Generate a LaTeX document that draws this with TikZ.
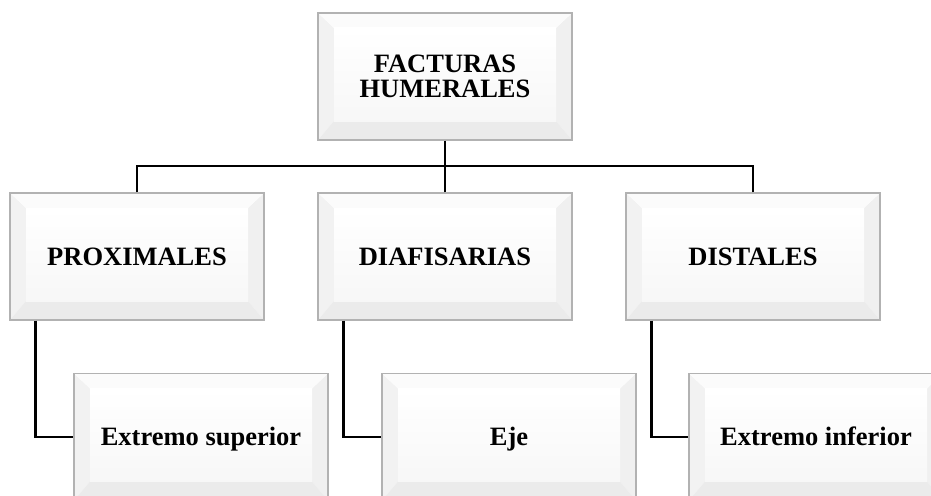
\documentclass[tikz,border=0pt]{standalone}
\usepackage{fontspec}
\setmainfont{Liberation Serif}
\tikzset{
  bev/.style={draw=gray!60, line width=1.3pt, fill=white,
    minimum width=254pt, minimum height=127pt, inner sep=0pt, align=center,
    font=\bfseries\fontsize{26.5}{25.5}\selectfont,
    path picture={
      \path (path picture bounding box.north west) coordinate (nw)
            (path picture bounding box.north east) coordinate (ne)
            (path picture bounding box.south west) coordinate (sw)
            (path picture bounding box.south east) coordinate (se);
      \fill[gray!10] (nw) -- ([xshift=16pt,yshift=-15pt]nw) -- ([xshift=16pt,yshift=19pt]sw) -- (sw) -- cycle;
      \fill[gray!12] (ne) -- ([xshift=-16pt,yshift=-15pt]ne) -- ([xshift=-16pt,yshift=19pt]se) -- (se) -- cycle;
      \fill[gray!3] (nw) -- ([xshift=16pt,yshift=-15pt]nw) -- ([xshift=-16pt,yshift=-15pt]ne) -- (ne) -- cycle;
      \fill[gray!16] (sw) -- ([xshift=16pt,yshift=19pt]sw) -- ([xshift=-16pt,yshift=19pt]se) -- (se) -- cycle;
      \shade[top color=white, bottom color=gray!6] ([xshift=16pt,yshift=-15pt]nw) rectangle ([xshift=-16pt,yshift=19pt]se);
    }},
  oneline/.style={text height=20pt, text depth=2.4pt},
  conn/.style={line width=2.8pt, black}
}
\begin{document}
\begin{tikzpicture}[x=1pt,y=1pt]
\clip (0,0) rectangle (931,-495);
\fill[white] (0,0) rectangle (931,-495);
\node[bev] (top) at (445,-76.5) {FACTURAS\\HUMERALES};
\node[bev,oneline] (p) at (137,-256.5) {PROXIMALES};
\node[bev,oneline] (m) at (445,-256.5) {DIAFISARIAS};
\node[bev,oneline] (d) at (753,-256.5) {DISTALES};
\node[bev,oneline] (es) at (201,-437) {Extremo superior};
\node[bev,oneline] (eje) at (509,-437) {Eje};
\node[bev,oneline] (ei) at (816,-437) {Extremo inferior};
\coordinate (bus) at (445,-166);
\draw[conn] (top.south) -- (bus);
\draw[conn] (p.north) |- (bus);
\draw[conn] (d.north) |- (bus);
\draw[conn] (m.north) -- (bus);
\draw[conn] ([xshift=26pt]p.south west) |- (es.west);
\draw[conn] ([xshift=26pt]m.south west) |- (eje.west);
\draw[conn] ([xshift=26pt]d.south west) |- (ei.west);
\end{tikzpicture}
\end{document}
